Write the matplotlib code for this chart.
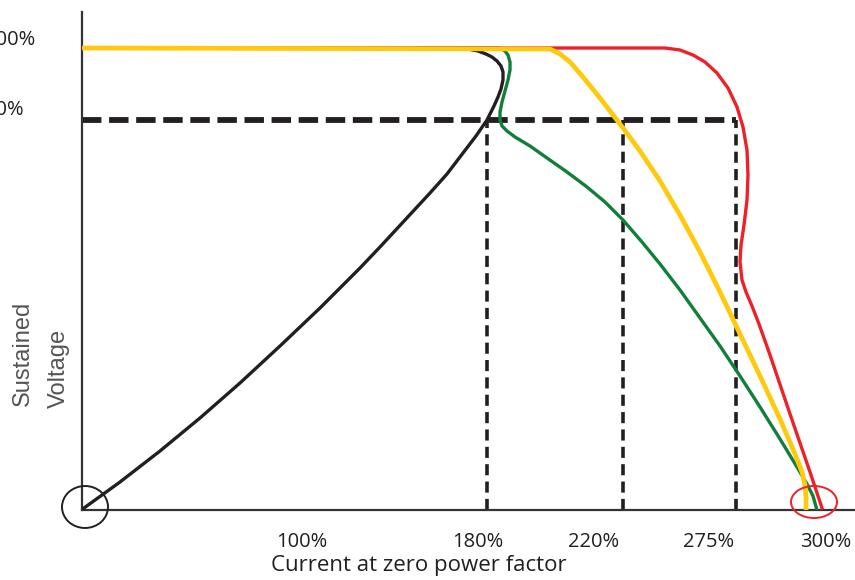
import matplotlib
matplotlib.use('Agg')
import matplotlib.pyplot as plt
from matplotlib.patches import Ellipse

plt.rcParams['font.family'] = ['Open Sans', 'DejaVu Sans']
plt.rcParams['lines.scale_dashes'] = False

# curve points, x and y measured from the axes origin
black_x = [2, 38, 78, 118, 158, 198, 238, 278, 298, 323, 348, 365, 381, 394, 405,
           408, 412, 416, 419, 421, 421, 419, 415, 410, 404, 396, 386]
black_y = [2, 28, 59, 92, 127, 164, 202, 242, 263, 290, 317, 336, 357, 374, 390,
           396, 404, 413, 421, 430, 438, 444, 449, 453, 456, 459, 461]

green_x = [0, 418, 423, 426, 428, 428, 426, 423, 420, 418, 418, 420, 425, 433, 448, 465,
           485, 505, 523, 541, 560, 578, 598, 618, 638, 658, 678, 698, 715, 725, 731, 735]
green_y = [462, 462, 459, 455, 448, 440, 430, 419, 408, 398, 390, 384, 379, 373, 364, 352,
           338, 323, 308, 290, 268, 246, 220, 192, 164, 134, 103, 71, 43, 26, 14, 0]

yellow_x = [0, 468, 478, 488, 501, 518, 538, 558, 578, 598, 618, 638, 658, 678, 698,
            713, 720, 723, 724, 724]
yellow_y = [462, 461, 456, 448, 433, 412, 386, 359, 329, 295, 258, 218, 176, 134, 91,
            56, 38, 25, 13, 0]

red_x = [0, 583, 598, 611, 623, 635, 646, 655, 661, 665, 666, 665, 662, 659, 658, 660,
         664, 670, 677, 688, 708, 728, 740]
red_y = [462, 462, 460, 455, 448, 437, 422, 403, 383, 360, 335, 310, 285, 265, 248, 230,
         218, 204, 186, 155, 96, 38, 2]

# reference levels
rated_y = 390
drop_x = [405, 541, 654]

xtick_pos = [220, 396, 512, 627, 744]
xtick_labels = ['100%', '180%', '220%', '275%', '300%']
ytick_labels = ['100%', '90%']

fig = plt.figure(figsize=(8.55, 5.8), dpi=100)
ax = fig.add_axes([82 / 855, 70 / 580, 773 / 855, 498 / 580])
ax.set_xlim(0, 773)
ax.set_ylim(0, 498)

for s in ['top', 'right']:
    ax.spines[s].set_visible(False)
for s in ['left', 'bottom']:
    ax.spines[s].set_color('#333333')
    ax.spines[s].set_linewidth(1.6)

# dashed guides
ax.plot([0, drop_x[-1]], [rated_y, rated_y], color='#231f20', lw=4.2,
        dashes=(14, 5.5), solid_capstyle='butt', zorder=2)
for dx in drop_x:
    ax.plot([dx, dx], [0, rated_y], color='#231f20', lw=2.6,
            dashes=(8, 4.5), zorder=2)

ax.plot(black_x, black_y, color='#231f20', lw=2.4, zorder=3, solid_joinstyle='round')
ax.plot(green_x, green_y, color='#0f7f3a', lw=2.4, zorder=3, solid_joinstyle='round')
ax.plot(red_x, red_y, color='#ee2028', lw=2.4, zorder=3, solid_joinstyle='round')
ax.plot(yellow_x, yellow_y, color='#ffc90e', lw=3.4, zorder=4, solid_joinstyle='round')

ax.add_patch(Ellipse((3, 3), 46, 42, fill=False, ec='#231f20', lw=1.4, clip_on=False, zorder=5))
ax.add_patch(Ellipse((732, 8), 46, 32, fill=False, ec='#ee2028', lw=1.4, clip_on=False, zorder=5))

ax.set_xticks(xtick_pos)
ax.set_xticklabels(xtick_labels, fontsize=14.5, color='#231f20')
ax.tick_params(axis='x', length=0, pad=16)
ax.set_yticks([])

fig.text(-16 / 855, 1 - 40 / 580, ytick_labels[0], fontsize=14.5, color='#231f20', ha='left', va='center')
fig.text(-16 / 855, 1 - 110 / 580, ytick_labels[1], fontsize=14.5, color='#231f20', ha='left', va='center')

fig.text(419 / 855, 1 - 571 / 580, 'Current at zero power factor', fontsize=16,
         color='#231f20', ha='center', va='baseline')
fig.text(23 / 855, 1 - 353 / 580, 'Sustained', fontsize=17, color='#555555', rotation=90,
         ha='center', va='center', family=['Liberation Sans'])
fig.text(59 / 855, 1 - 368 / 580, 'Voltage', fontsize=17, color='#555555', rotation=90,
         ha='center', va='center', family=['Liberation Sans'])

fig.savefig('out.png', dpi=100)
